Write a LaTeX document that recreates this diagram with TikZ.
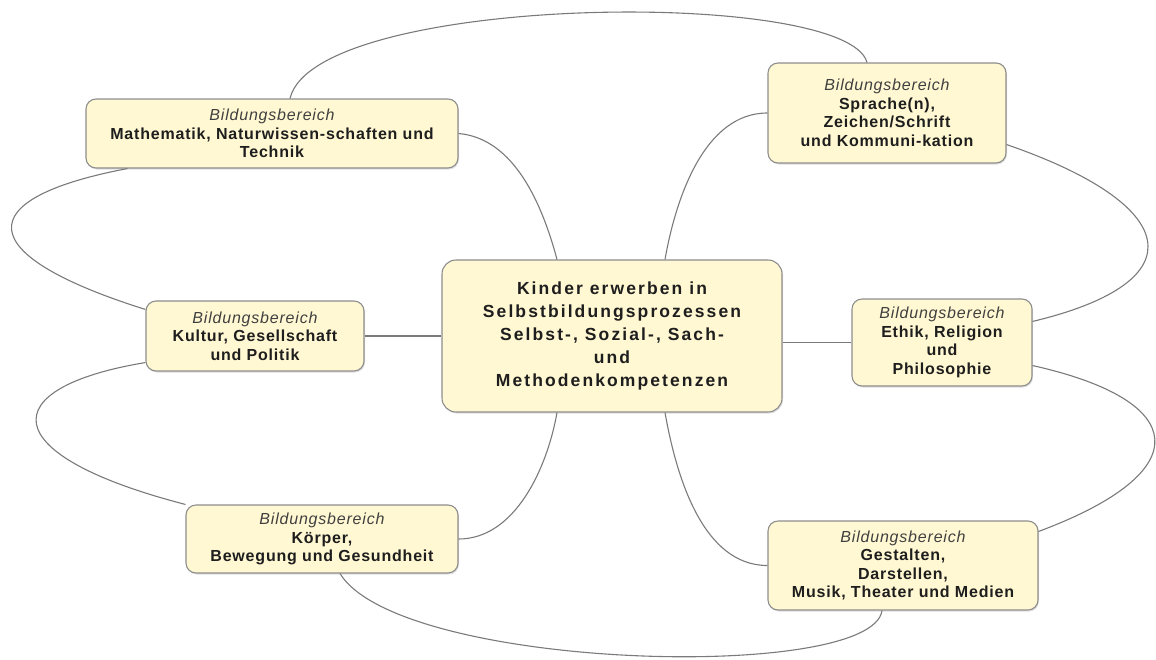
\documentclass[tikz,border=0pt]{standalone}
\usepackage{fontspec}
\newfontfamily\boxfont[LetterSpace=5]{Liberation Sans}
\newfontfamily\midfont[LetterSpace=12]{Liberation Sans}
\usetikzlibrary{shadows}

\definecolor{boxfill}{HTML}{FFF8D2}
\definecolor{boxline}{HTML}{8E8E8E}
\definecolor{linkgray}{HTML}{7A7A7A}
\definecolor{textdark}{HTML}{1E1E1E}
\definecolor{bbgray}{HTML}{404040}

\newcommand{\bb}{{\mdseries\itshape\color{bbgray}Bildungsbereich}\\}

\tikzset{
  bereich/.style={draw=boxline, fill=boxfill, line width=1.1pt, rounded corners=10pt,
    align=center, inner sep=2pt, text=textdark,
    drop shadow={shadow xshift=1pt, shadow yshift=-1.5pt, opacity=0.25},
    font=\boxfont\fontsize{16}{18.5}\selectfont\bfseries},
  kern/.style={bereich, rounded corners=14pt, font=\midfont\fontsize{17.5}{23}\selectfont\bfseries},
  verbindung/.style={draw=linkgray, line width=1.1pt}
}

\begin{document}
\begin{tikzpicture}[x=1pt, y=-1pt]
    \useasboundingbox (0,0) rectangle (1156,659);

    % Bildungsbereiche rund um den Kern
    \node[kern, minimum width=340pt, minimum height=152pt] (kern) at (612,336)
        {Kinder erwerben in\\Selbstbildungsprozessen\\Selbst-, Sozial-, Sach-\\und\\Methodenkompetenzen};
    \node[bereich, minimum width=372pt, minimum height=69pt] (mathe) at (272,133.5)
        {\bb Mathematik, Naturwissen-schaften und\\Technik};
    \node[bereich, minimum width=238pt, minimum height=100pt] (sprache) at (887,113)
        {\bb Sprache(n),\\Zeichen/Schrift\\und Kommuni-kation};
    \node[bereich, minimum width=218pt, minimum height=70pt] (kultur) at (255,336)
        {\bb Kultur, Gesellschaft\\und Politik};
    \node[bereich, minimum width=180pt, minimum height=87pt] (ethik) at (942,342.5)
        {\bb Ethik, Religion\\und\\Philosophie};
    \node[bereich, minimum width=272pt, minimum height=68pt] (koerper) at (322,539)
        {\bb K\"orper,\\Bewegung und Gesundheit};
    \node[bereich, minimum width=270pt, minimum height=89pt] (gestalten) at (903,565.5)
        {\bb Gestalten,\\Darstellen,\\Musik, Theater und Medien};

    % Verbindungen zum Kern
    \draw[verbindung] (mathe.east) to[out=-5, in=105, looseness=0.9] ([xshift=-55pt]kern.north);
    \draw[verbindung] ([xshift=53pt]kern.north) to[out=80, in=180, looseness=0.9] (sprache.west);
    \draw[verbindung] (kultur.east) -- (kern.west);
    \draw[verbindung] (kern.east |- ethik.west) -- (ethik.west);
    \draw[verbindung] ([xshift=-55pt]kern.south) to[out=-100, in=0, looseness=0.9] (koerper.east);
    \draw[verbindung] ([xshift=53pt]kern.south) to[out=-80, in=180, looseness=0.9] (gestalten.west);

    % aeusserer Ring
    \draw[verbindung] ([xshift=18pt]mathe.north) .. controls +(25,-105) and +(-20,-75) .. ([xshift=-20pt]sprache.north);
    \draw[verbindung] ([xshift=42pt]mathe.south west) .. controls +(-158,30) and +(-175,-55) .. ([yshift=-9pt]kultur.north west);
    \draw[verbindung] ([yshift=9pt]kultur.south west) .. controls +(-151,25) and +(-193,-50) .. (koerper.north west);
    \draw[verbindung] ([yshift=19pt]sprache.south east) .. controls +(174,60) and +(167,-40) .. ([yshift=-23pt]ethik.north east);
    \draw[verbindung] ([yshift=21pt]ethik.south east) .. controls +(157,35) and +(161,-60) .. ([yshift=-11pt]gestalten.north east);
    \draw[verbindung] ([xshift=18pt]koerper.south) .. controls +(60,97) and +(-10,72) .. ([xshift=-21pt]gestalten.south);

\end{tikzpicture}
\end{document}
